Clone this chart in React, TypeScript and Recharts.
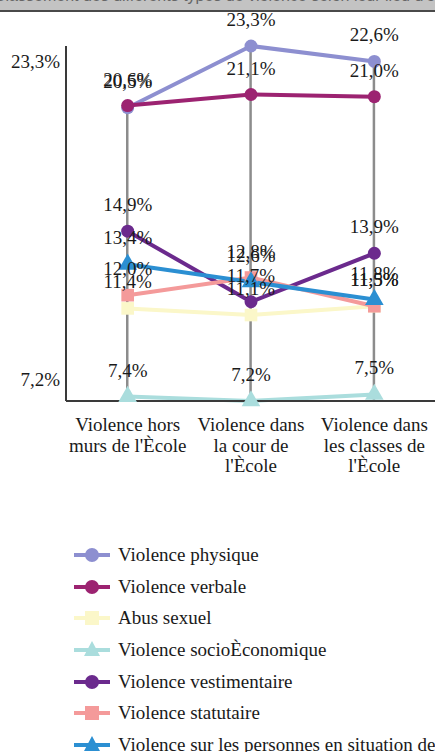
import { Bar, ComposedChart, LabelList, Line, Symbols, XAxis, YAxis } from "recharts";

const categories = ["hors", "cour", "classes"];
const categoryLines = [
  ["Violence hors", "murs de l'Ècole"],
  ["Violence dans", "la cour de", "l'Ècole"],
  ["Violence dans", "les classes de", "l'Ècole"],
];

const physique = [20.5, 23.3, 22.6];
const verbale = [20.6, 21.1, 21.0];
const abusSexuel = [11.4, 11.1, 11.5];
const socioEconomique = [7.4, 7.2, 7.5];
const vestimentaire = [14.9, 11.7, 13.9];
const statutaire = [12.0, 12.8, 11.5];
const situation = [13.4, 12.6, 11.8];

const yTicks = [7.2, 23.3];

type Shape = "circle" | "square" | "triangle";

const series: { key: string; name: string; color: string; shape: Shape; values: number[] }[] = [
  { key: "physique", name: "Violence physique", color: "#8d8fd0", shape: "circle", values: physique },
  { key: "verbale", name: "Violence verbale", color: "#9c2371", shape: "circle", values: verbale },
  { key: "abus", name: "Abus sexuel", color: "#fbf7c9", shape: "square", values: abusSexuel },
  { key: "socio", name: "Violence socioÈconomique", color: "#aadddd", shape: "triangle", values: socioEconomique },
  { key: "vest", name: "Violence vestimentaire", color: "#6b2a8d", shape: "circle", values: vestimentaire },
  { key: "statut", name: "Violence statutaire", color: "#f49a9a", shape: "square", values: statutaire },
  { key: "situation", name: "Violence sur les personnes en situation de handicap", color: "#2b8fd2", shape: "triangle", values: situation },
];

const data = categories.map((cat, i) => {
  const row: Record<string, number | string> = { cat };
  series.forEach((s) => (row[s.key] = s.values[i]));
  row.max = Math.max(...series.map((s) => s.values[i]));
  return row;
});

const FONT = "Liberation Serif, Tinos, DejaVu Serif, serif";

function pct(v: unknown) {
  return Number(v).toFixed(1).replace(".", ",") + "%";
}

function makeDot(shape: Shape, color: string) {
  return (p: any) => {
    const { cx, cy, index } = p;
    if (shape === "circle") return <circle key={index} cx={cx} cy={cy} r={6.5} fill={color} />;
    return (
      <Symbols key={index} cx={cx} cy={cy} type={shape} size={shape === "square" ? 160 : 150} fill={color} />
    );
  };
}

function XTick(props: any) {
  const { x, y, payload } = props;
  const lines = categoryLines[payload.index] || [];
  return (
    <text x={x} y={y + 22} textAnchor="middle" style={{ fontFamily: FONT }} fontSize={19} fill="#1a1a1a">
      {lines.map((l, i) => (
        <tspan key={i} x={x} dy={i === 0 ? 0 : 20.5}>
          {l}
        </tspan>
      ))}
    </text>
  );
}

function YTick(props: any) {
  const { x, y, payload } = props;
  const top = payload.value === yTicks[yTicks.length - 1];
  return (
    <text x={x + 2} y={y + (top ? 22 : -15)} textAnchor="end" style={{ fontFamily: FONT }} fontSize={19} fill="#1a1a1a">
      {pct(payload.value)}
    </text>
  );
}

function LegendMarker({ shape, color }: { shape: Shape; color: string }) {
  return (
    <svg width={38} height={20} style={{ display: "block" }}>
      <line x1={1} y1={10} x2={37} y2={10} stroke={color} strokeWidth={4} />
      {shape === "circle" && <circle cx={19} cy={10} r={7} fill={color} />}
      {shape === "square" && <rect x={12} y={3} width={14} height={14} fill={color} />}
      {shape === "triangle" && <polygon points="19,1 27,16 11,16" fill={color} />}
    </svg>
  );
}

export default function App() {
  return (
    <div
      style={{
        position: "absolute",
        left: 0,
        top: 0,
        width: 435,
        height: 752,
        overflow: "hidden",
        background: "#fff",
        fontFamily: FONT,
      }}
    >
      <div
        style={{
          position: "absolute",
          left: 0,
          top: 0,
          width: 435,
          height: 10,
          background: "#c3c3c3",
          borderBottom: "2px solid #4a4a4a",
          overflow: "hidden",
        }}
      >
        <div
          style={{
            position: "absolute",
            top: -13,
            left: -6,
            whiteSpace: "nowrap",
            fontSize: 16,
            color: "#666",
            fontFamily: "Liberation Sans, sans-serif",
          }}
        >
          Classement des différents types de violence selon leur lieu d'occurrence
        </div>
      </div>

      <div style={{ position: "absolute", left: 0, top: 0 }}>
        <ComposedChart width={440} height={480} data={data} margin={{ top: 46, right: 4, left: 0, bottom: 0 }}>
          <XAxis
            dataKey="cat"
            height={79}
            interval={0}
            tickLine={false}
            axisLine={{ stroke: "#3a3a3a", strokeWidth: 2 }}
            tick={<XTick />}
          />
          <YAxis
            width={66}
            domain={[yTicks[0], yTicks[1]]}
            ticks={yTicks}
            tickLine={false}
            axisLine={{ stroke: "#3a3a3a", strokeWidth: 2 }}
            tick={<YTick />}
          />
          <Bar dataKey="max" barSize={2.5} fill="#8c8c8c" isAnimationActive={false} />
          {series.map((s) => (
            <Line
              key={s.key}
              type="linear"
              dataKey={s.key}
              stroke={s.color}
              strokeWidth={4}
              dot={makeDot(s.shape, s.color)}
              activeDot={false}
              isAnimationActive={false}
            >
              <LabelList
                dataKey={s.key}
                position="top"
                offset={20}
                formatter={pct}
                fill="#1a1a1a"
                fontSize={19}
                style={{ fontFamily: FONT }}
              />
            </Line>
          ))}
        </ComposedChart>
      </div>

      <div style={{ position: "absolute", left: 73, top: 539 }}>
        {series.map((s) => (
          <div key={s.key} style={{ height: 31.7, display: "flex", alignItems: "center", whiteSpace: "nowrap" }}>
            <LegendMarker shape={s.shape} color={s.color} />
            <span style={{ marginLeft: 7, fontSize: 19, color: "#1a1a1a" }}>{s.name}</span>
          </div>
        ))}
      </div>
    </div>
  );
}
